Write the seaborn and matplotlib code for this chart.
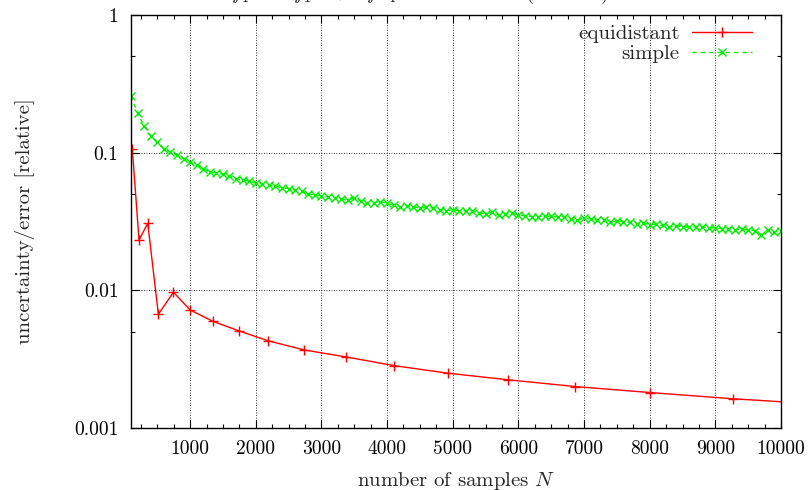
import numpy as np
import pandas as pd
import matplotlib
matplotlib.use("Agg")
import matplotlib.pyplot as plt
import seaborn as sns
from matplotlib.ticker import FixedLocator, FixedFormatter, LogLocator, NullFormatter, MultipleLocator

# ---- data ----
equi_n = [120, 222, 355, 517, 746, 1000, 1346, 1747, 2189, 2738, 3378,
          4104, 4928, 5843, 6869, 8001, 9273, 10700]
equi_err = [0.106, 0.0232, 0.0307, 0.0067, 0.00969, 0.0072, 0.00596, 0.00507,
            0.0043, 0.00369, 0.00328, 0.00284, 0.0025, 0.00224, 0.0020,
            0.00181, 0.00163, 0.00148]

simple_n = list(range(100, 10001, 100))
simple_err = [
    0.258, 0.193, 0.157, 0.132, 0.119, 0.107, 0.1016, 0.0962, 0.0895, 0.0850,
    0.0814, 0.0765, 0.0722, 0.0712, 0.0695, 0.0672, 0.0648, 0.0630, 0.0625, 0.0598,
    0.0594, 0.0582, 0.0570, 0.0556, 0.0549, 0.0534, 0.0525, 0.0500, 0.0494, 0.0484,
    0.0478, 0.0472, 0.0458, 0.0452, 0.0470, 0.0445, 0.0428, 0.0432, 0.0440, 0.0432,
    0.0415, 0.0405, 0.0412, 0.0403, 0.0398, 0.0400, 0.0398, 0.0385, 0.0380, 0.0384,
    0.0380, 0.0376, 0.0376, 0.0366, 0.0360, 0.0368, 0.0354, 0.0358, 0.0362, 0.0353,
    0.0348, 0.0343, 0.0342, 0.0348, 0.0344, 0.0343, 0.0342, 0.0330, 0.0324, 0.0336,
    0.0330, 0.0324, 0.0322, 0.0312, 0.0318, 0.0316, 0.0312, 0.0305, 0.0310, 0.0300,
    0.0302, 0.0296, 0.0290, 0.0295, 0.0290, 0.0288, 0.0289, 0.0288, 0.0286, 0.0284,
    0.0281, 0.0279, 0.0276, 0.0278, 0.0275, 0.0271, 0.0253, 0.0276, 0.0266, 0.0269,
]

x_ticks = [1000, 2000, 3000, 4000, 5000, 6000, 7000, 8000, 9000, 10000]
x_labels = [str(v) for v in x_ticks]
y_ticks = [0.001, 0.01, 0.1, 1]
y_labels = ["0.001", "0.01", "0.1", "1"]

# ---- style ----
sns.set_style("white")
plt.rcParams["font.family"] = ["cmr10", "DejaVu Serif"]
plt.rcParams["mathtext.fontset"] = "cm"
plt.rcParams["axes.unicode_minus"] = False

RED = "#ff0000"
GREEN = "#00ee00"

fig = plt.figure(figsize=(8.12, 4.90), dpi=100)
ax = fig.add_axes([131 / 812, 1 - 428 / 490, 650 / 812, 413 / 490])

df_e = pd.DataFrame({"N": equi_n, "err": equi_err})
df_s = pd.DataFrame({"N": simple_n, "err": simple_err})

sns.lineplot(data=df_e, x="N", y="err", ax=ax, color=RED, lw=1.0,
             marker="+", markersize=7, markeredgewidth=1.0,
             markeredgecolor=RED, label="equidistant")
sns.lineplot(data=df_s, x="N", y="err", ax=ax, color=GREEN, lw=1.0,
             linestyle=(0, (3, 3)), marker="x", markersize=6,
             markeredgewidth=1.0, markeredgecolor=GREEN, label="simple")

ax.set_yscale("log")
ax.set_xlim(100, 10000)
ax.set_ylim(0.001, 1)

ax.xaxis.set_major_locator(FixedLocator(x_ticks))
ax.xaxis.set_major_formatter(FixedFormatter(x_labels))
ax.xaxis.set_minor_locator(MultipleLocator(250))
ax.yaxis.set_major_locator(FixedLocator(y_ticks))
ax.yaxis.set_major_formatter(FixedFormatter(y_labels))
ax.yaxis.set_minor_locator(LogLocator(base=10, subs=[5.0]))
ax.yaxis.set_minor_formatter(NullFormatter())

ax.tick_params(which="both", direction="in", top=True, right=True,
               bottom=True, left=True, colors="black", labelsize=14)
ax.tick_params(which="major", length=6, width=0.8, pad=9)
ax.tick_params(which="minor", length=3, width=0.8)

ax.grid(True, which="major", color="black", linestyle=(0, (1, 2)), lw=0.6)
for s in ax.spines.values():
    s.set_color("black")
    s.set_linewidth(1.0)

ax.set_xlabel("number of samples $N$", fontsize=15, labelpad=8)
ax.set_ylabel("uncertainty/error [relative]", fontsize=15, labelpad=28)

leg = ax.legend(loc="upper right", bbox_to_anchor=(0.985, 1.022), frameon=False,
                markerfirst=False, handlelength=2.9, fontsize=15,
                labelspacing=0.05, numpoints=1, handletextpad=0.6)

fig.text(420 / 812, 1.003,
         r"$f_1 \;\;=\;\; f_1 \;\;\;+\;\;\; f_{-4}$  error bound (relative)",
         ha="center", va="baseline", fontsize=15)

fig.savefig("out.png", dpi=100)
